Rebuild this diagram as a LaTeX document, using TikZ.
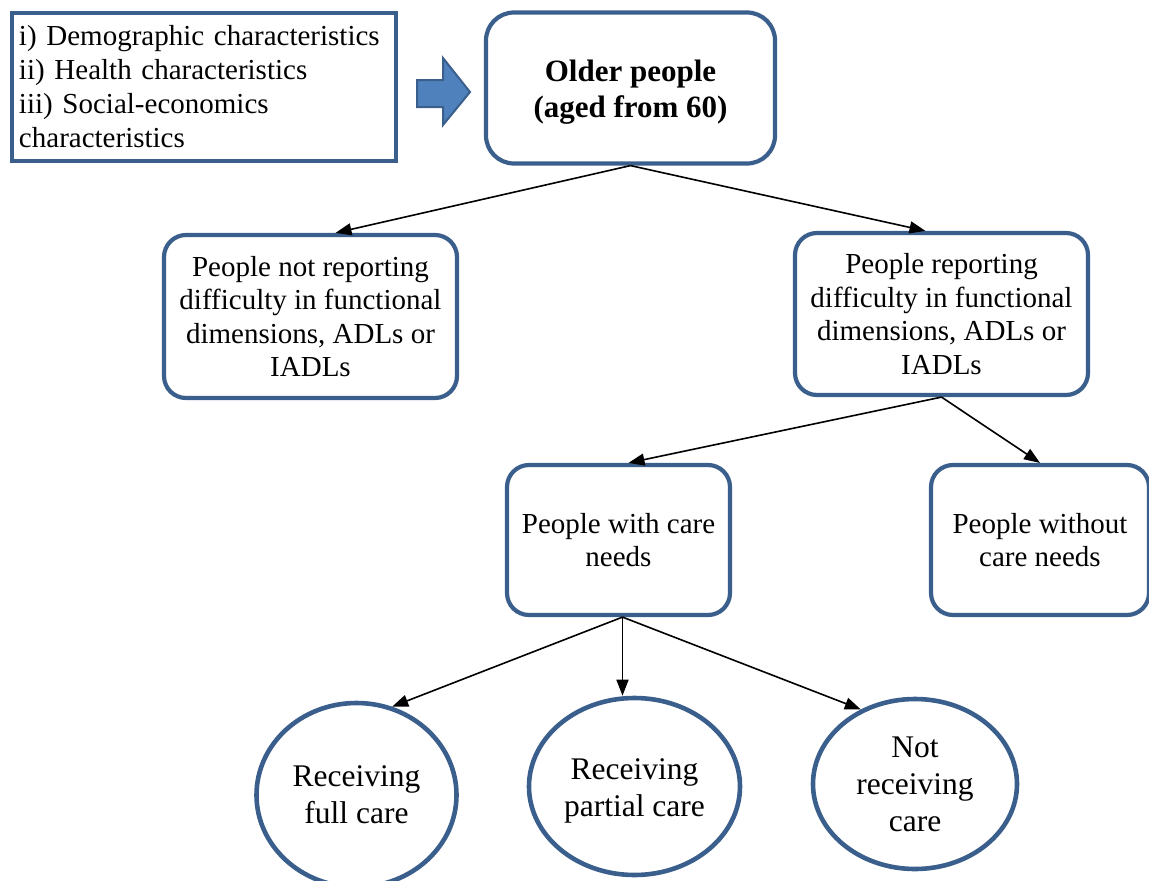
\documentclass[tikz,border=0pt]{standalone}
\usepackage{fontspec}
\setmainfont{Liberation Serif}
\usetikzlibrary{arrows.meta, shapes.geometric, positioning}
\definecolor{rblue1}{HTML}{3B5F8C}
\definecolor{rblue2}{HTML}{4F81BD}

\begin{document}
\frenchspacing
\begin{tikzpicture}[x=1pt, y=-1pt,
    box/.style={draw=rblue1, line width=4.2pt, rounded corners=22pt, align=center, fill=white, font=\fontsize{29}{33.5}\selectfont},
    oval/.style={ellipse, draw=rblue1, line width=4.6pt, inner sep=0pt},
    ovaltext/.style={align=center, font=\fontsize{31.5}{37}\selectfont},
    link/.style={-{Triangle[length=16pt,width=12pt]}, line width=1.6pt}]

        \useasboundingbox (0,0) rectangle (1149,881);

        % list of characteristics and block arrow
        \node[draw=rblue1, line width=3.8pt, align=left, text width=370pt, minimum width=384pt, minimum height=148pt, font=\fontsize{29}{34}\selectfont] (chars) at (204,87)
            {i) Demographic characteristics\\ii) Health characteristics\\iii) Social-economics\\characteristics};
        \draw[fill=rblue2, draw=rblue1, line width=2pt] (417,80) -- (443,80) -- (443,58) -- (470,92) -- (443,125) -- (443,107) -- (417,107) -- cycle;

        \node[box, minimum width=289pt, minimum height=151pt, rounded corners=28pt, font=\fontsize{31}{36}\selectfont\bfseries,
            label={[font=\fontsize{31}{36}\selectfont\bfseries, align=center, yshift=-4pt]center:Older people\\(aged from 60)}] (old) at (630.5,88) {};

        \node[box, minimum width=293pt, minimum height=163pt] (nrep) at (310.5,316.5) {People not reporting\\difficulty in functional\\dimensions, ADLs or\\IADLs};
        \node[box, minimum width=293pt, minimum height=162pt] (rep) at (941.5,314) {People reporting\\difficulty in functional\\dimensions, ADLs or\\IADLs};

        \node[box, minimum width=223pt, minimum height=150pt] (care) at (618.5,540) {People with care\\needs};
        \node[box, minimum width=218pt, minimum height=150pt] (nocare) at (1040,540) {People without\\care needs};

        \node[oval, minimum width=200pt, minimum height=184pt, label={[ovaltext]center:Receiving\\full care}] (full) at (356.5,795) {};
        \node[oval, minimum width=211pt, minimum height=177pt, label={[ovaltext, yshift=-4pt]center:Receiving\\partial care}] (part) at (634.5,786.5) {};
        \node[oval, minimum width=204pt, minimum height=170pt, label={[ovaltext]center:Not\\receiving\\care}] (notr) at (915,784) {};

        \draw[link] (old.south) -- ([xshift=25pt]nrep.north);
        \draw[link] (old.south) -- ([xshift=-16pt]rep.north);

        \draw[link] (rep.south) -- ([xshift=10pt]care.north);
        \draw[link] (rep.south) -- (nocare.north);

        \draw[link] ([xshift=4pt]care.south) -- (full.68);
        \draw[link] ([xshift=4pt]care.south) -- ([xshift=4pt]care.south |- part.north);
        \draw[link] ([xshift=4pt]care.south) -- (notr.126);

\end{tikzpicture}
\end{document}
